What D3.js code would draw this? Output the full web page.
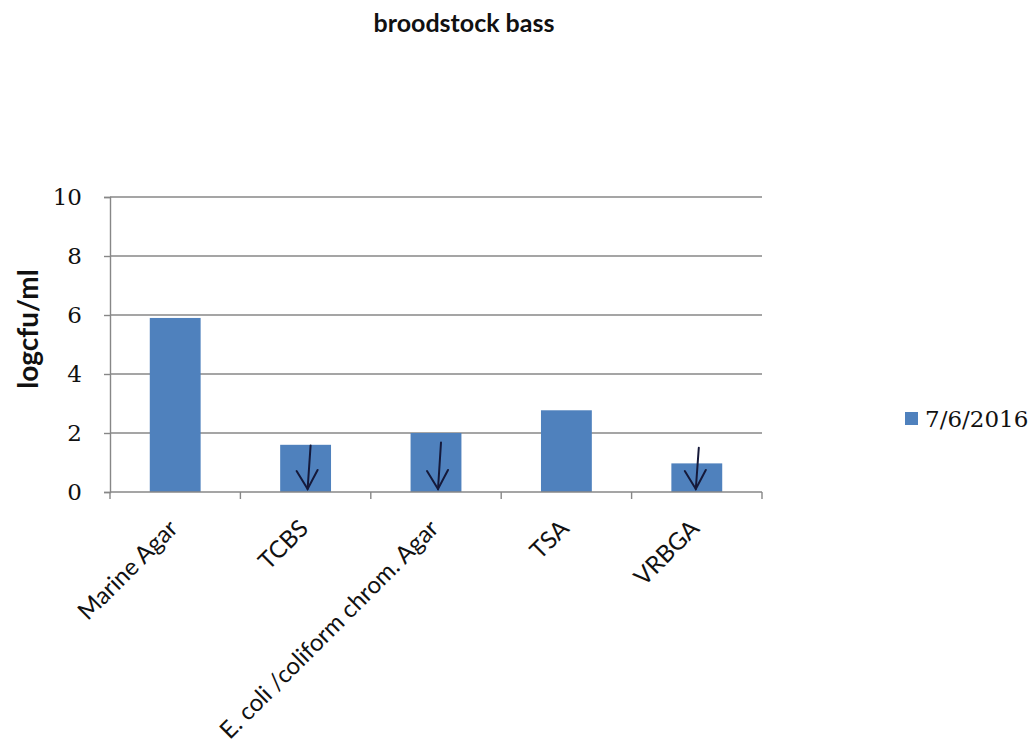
<!DOCTYPE html>
<html lang="en">
    <head>
        <meta charset="utf-8">
        <title>broodstock bass</title>
        <script type="text/javascript" src="https://cdn.jsdelivr.net/npm/d3@7"></script>
        <style>
            body { margin: 0; background: white; }
        </style>
    </head>
    <body>
        <script type="text/javascript">
            // data
            const media = ["Marine Agar", "TCBS", "E. coli /coliform chrom. Agar", "TSA", "VRBGA"]
            const counts = [5.9, 1.6, 2.0, 2.77, 0.97]
            const yTicks = [0, 2, 4, 6, 8, 10]
            const seriesName = "7/6/2016"
            // hand drawn "below limit" arrows: which bars, where they start (logcfu/ml)
            const arrowMedia = ["TCBS", "E. coli /coliform chrom. Agar", "VRBGA"]
            const arrowFrom = [1.58, 1.68, 1.5]
            const arrowLean = [5, 5, 2]

            const w = 1033
            const h = 751
            const plotLeft = 110, plotRight = 762, plotTop = 197, plotBottom = 492
            const blue = "#4f81bd"
            const grey = "#878787"

            let svg = d3.select("body")
                        .append("svg")
                            .attr("width", w)
                            .attr("height", h)

            let x = d3.scaleBand()
                      .domain(media)
                      .range([plotLeft, plotRight])
                      .paddingInner(0.61)
                      .paddingOuter(0.305)
            let y = d3.scaleLinear()
                      .domain([0, 10])
                      .range([plotBottom, plotTop])

            svg.append("text")
                .attr("x", 464)
                .attr("y", 32)
                .attr("text-anchor", "middle")
                .attr("font-family", "Lato, sans-serif")
                .attr("font-weight", "bold")
                .attr("font-size", "25px")
                .attr("fill", "#111")
                .text("broodstock bass")

            // gridlines
            svg.selectAll(".grid")
                .data(yTicks.filter(d => d > 0))
                .enter()
                .append("line")
                    .attr("class", "grid")
                    .attr("x1", plotLeft)
                    .attr("x2", plotRight)
                    .attr("y1", d => y(d))
                    .attr("y2", d => y(d))
                    .attr("stroke", grey)
                    .attr("stroke-width", 1.4)

            // y axis
            let yAxis = svg.append("g")
                .attr("transform", `translate(${plotLeft},0)`)
                .call(d3.axisLeft(y).tickValues(yTicks).tickSize(6).tickPadding(22))
            yAxis.select(".domain").attr("stroke", grey).attr("stroke-width", 1.4)
            yAxis.selectAll(".tick line").attr("stroke", grey).attr("stroke-width", 1.4)
            yAxis.selectAll("text")
                .attr("font-family", "'DejaVu Serif', serif")
                .attr("font-size", "23px")
                .attr("fill", "#111")

            svg.append("text")
                .attr("transform", "translate(38,329) rotate(-90)")
                .attr("text-anchor", "middle")
                .attr("font-family", "Lato, sans-serif")
                .attr("font-weight", "bold")
                .attr("font-size", "28px")
                .attr("fill", "#111")
                .text("logcfu/ml")

            // bars
            svg.selectAll(".bar")
                .data(media)
                .enter()
                .append("rect")
                    .attr("class", "bar")
                    .attr("x", d => x(d))
                    .attr("width", x.bandwidth())
                    .attr("y", (d, i) => y(counts[i]))
                    .attr("height", (d, i) => y(0) - y(counts[i]))
                    .attr("fill", blue)

            // x axis with ticks between categories
            let xg = svg.append("g")
            xg.append("line")
                .attr("x1", plotLeft).attr("x2", plotRight)
                .attr("y1", plotBottom).attr("y2", plotBottom)
                .attr("stroke", grey).attr("stroke-width", 1.4)
            let bounds = media.map(d => x(d) - x.step() * x.paddingInner() / 2)
            bounds.push(plotRight)
            xg.selectAll(".xtick")
                .data(bounds)
                .enter()
                .append("line")
                    .attr("x1", d => d).attr("x2", d => d)
                    .attr("y1", plotBottom).attr("y2", plotBottom + 7)
                    .attr("stroke", grey).attr("stroke-width", 1.4)
            xg.selectAll(".xlab")
                .data(media)
                .enter()
                .append("text")
                    .attr("transform", d => `translate(${x(d) + x.bandwidth() / 2 + 4},${plotBottom + 38}) rotate(-45)`)
                    .attr("text-anchor", "end")
                    .attr("font-family", "Lato, sans-serif")
                    .attr("font-size", "24px")
                    .attr("fill", "#111")
                    .text(d => d)

            // arrows
            let arrows = svg.selectAll(".arrow")
                .data(arrowMedia)
                .enter()
                .append("g")
                    .attr("class", "arrow")
                    .attr("fill", "none")
                    .attr("stroke", "#15193a")
                    .attr("stroke-width", 2)
                    .attr("stroke-linecap", "round")
            arrows.append("path")
                .attr("d", (d, i) => {
                    let cx = x(d) + x.bandwidth() / 2
                    let x0 = cx + arrowLean[i], y0 = y(arrowFrom[i])
                    let x1 = cx + arrowLean[i] - 3, y1 = y(0) - 3
                    return `M${x0},${y0} L${x1},${y1}`
                })
            arrows.append("path")
                .attr("d", (d, i) => {
                    let cx = x(d) + x.bandwidth() / 2
                    let x1 = cx + arrowLean[i] - 3, y1 = y(0) - 3
                    return `M${x1 - 11},${y1 - 18} L${x1},${y1} L${x1 + 10},${y1 - 19}`
                })

            // legend
            svg.append("rect")
                .attr("x", 905)
                .attr("y", 412)
                .attr("width", 13)
                .attr("height", 13)
                .attr("fill", blue)
            svg.append("text")
                .attr("x", 925)
                .attr("y", 427)
                .attr("font-family", "'DejaVu Serif', serif")
                .attr("font-size", "23px")
                .attr("fill", "#111")
                .text(seriesName)
        </script>
    </body>
</html>
